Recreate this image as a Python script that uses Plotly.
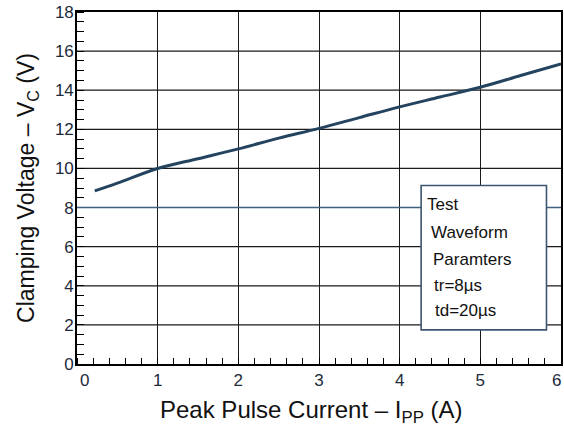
import plotly.graph_objects as go

# Data
current_a = [0.22, 0.5, 1.0, 1.5, 2.0, 2.5, 3.0, 3.5, 4.0, 4.5, 5.0, 5.5, 6.0]
clamp_v = [8.85, 9.25, 10.0, 10.5, 11.0, 11.55, 12.05, 12.6, 13.15, 13.65, 14.15, 14.75, 15.35]

x_ticks = [0, 1, 2, 3, 4, 5, 6]
y_ticks = [0, 2, 4, 6, 8, 10, 12, 14, 16, 18]
y_grid = [2, 4, 6, 10, 12, 14, 16]
ref_level = 8

box_lines = ["Test", "Waveform", "Paramters", "tr=8µs", "td=20µs"]
x_title = "Peak Pulse Current – I<sub>PP</sub> (A)"
y_title = "Clamping Voltage – V<sub>C</sub> (V)"

FONT = "Liberation Sans, Arial, sans-serif"
TICKFONT = dict(family=FONT, size=17, color="#1c2a3a")

fig = go.Figure()
fig.add_trace(go.Scatter(
    x=current_a, y=clamp_v, mode="lines",
    line=dict(color="#24435f", width=3, shape="spline"),
    showlegend=False, hoverinfo="skip",
))

shapes = []
for yv in y_grid:
    shapes.append(dict(type="line", xref="paper", x0=0, x1=1, yref="y", y0=yv, y1=yv,
                       line=dict(color="#1a1a1a", width=1.3), layer="below"))
shapes.append(dict(type="line", xref="paper", x0=0, x1=1, yref="y", y0=ref_level, y1=ref_level,
                   line=dict(color="#3f6080", width=1.5), layer="above"))
shapes.append(dict(type="rect", xref="paper", yref="paper", x0=0.711, x1=0.970, y0=0.097, y1=0.507,
                   fillcolor="white", line=dict(color="#3d5570", width=1.6), layer="above"))

annotations = []
line_x = [0.719, 0.727, 0.731, 0.734, 0.736]
line_y = [0.452, 0.373, 0.298, 0.224, 0.153]
for txt, lx, ly in zip(box_lines, line_x, line_y):
    annotations.append(dict(text=txt, xref="paper", yref="paper", x=lx, y=ly,
                            xanchor="left", yanchor="middle", showarrow=False,
                            font=dict(family=FONT, size=17, color="#111111")))
annotations.append(dict(text=x_title, xref="paper", yref="paper", x=0.4855, y=-0.135,
                        xanchor="center", yanchor="middle", showarrow=False,
                        font=dict(family=FONT, size=24, color="#111111")))
# End labels of the x axis sit inset from the frame, as in the reference
annotations.append(dict(text=str(x_ticks[0]), xref="x", yref="paper", x=x_ticks[0], y=-0.048,
                        xanchor="left", yanchor="middle", xshift=1, showarrow=False, font=TICKFONT))
annotations.append(dict(text=str(x_ticks[-1]), xref="x", yref="paper", x=x_ticks[-1], y=-0.048,
                        xanchor="right", yanchor="middle", xshift=2, showarrow=False, font=TICKFONT))

fig.update_layout(
    width=564, height=432,
    margin=dict(l=77, r=3, t=12, b=68),
    paper_bgcolor="white", plot_bgcolor="white",
    font=dict(family=FONT, color="#111111"),
    shapes=shapes, annotations=annotations,
    xaxis=dict(
        range=[0, 6], tickvals=x_ticks[1:-1], ticktext=[str(v) for v in x_ticks[1:-1]],
        showgrid=True, gridcolor="#1a1a1a", gridwidth=1.3,
        showline=True, linecolor="black", linewidth=1.6, mirror=True,
        ticks="", zeroline=False,
        minor=dict(tick0=0, dtick=0.2, ticks="inside", ticklen=6, tickcolor="black", tickwidth=1.2, showgrid=False),
        tickfont=TICKFONT,
        automargin=False,
    ),
    yaxis=dict(
        range=[0, 18], tickvals=y_ticks, ticktext=[str(v) for v in y_ticks],
        showgrid=False,
        showline=True, linecolor="black", linewidth=1.6, mirror=True,
        ticks="", zeroline=False, ticklabeloverflow="allow", ticklabelstandoff=-2,
        minor=dict(tick0=0, dtick=0.5, ticks="inside", ticklen=7, tickcolor="black", tickwidth=1.2, showgrid=False),
        tickfont=TICKFONT,
        title=dict(text=y_title, font=dict(size=23, color="#111111"), standoff=14),
        automargin=False,
    ),
)

# Remove the page's default 8px body margin so the figure sits at the window's corner
fig.write_html("out.html", config={"displayModeBar": False},
               post_script="document.body.style.margin='0';")
